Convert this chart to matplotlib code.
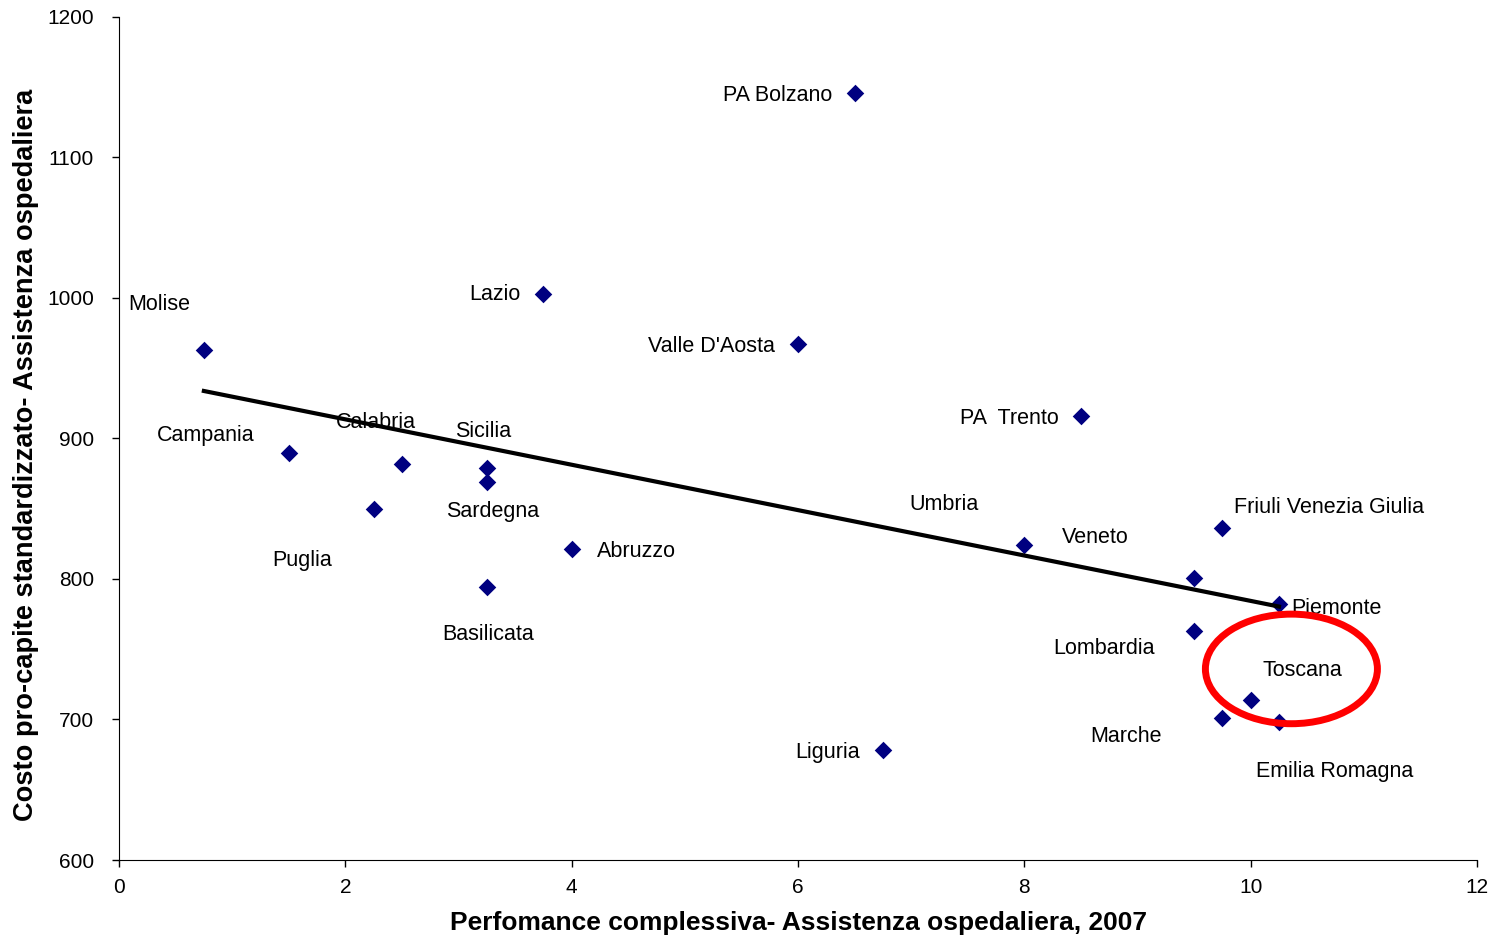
import matplotlib
matplotlib.use("Agg")
import matplotlib.pyplot as plt
from matplotlib.patches import Ellipse
import numpy as np

plt.rcParams['font.family'] = ['Liberation Sans', 'DejaVu Sans']

regions = ["PA Bolzano", "Lazio", "Valle D'Aosta", "Molise", "PA  Trento", "Campania",
           "Calabria", "Sicilia", "Sardegna", "Puglia", "Abruzzo", "Basilicata",
           "Umbria", "Friuli Venezia Giulia", "Veneto", "Piemonte", "Lombardia",
           "Toscana", "Marche", "Emilia Romagna", "Liguria"]
performance = [6.5, 3.75, 6.0, 0.75, 8.5, 1.5,
               2.5, 3.25, 3.25, 2.25, 4.0, 3.25,
               8.0, 9.75, 9.5, 10.25, 9.5,
               10.0, 9.75, 10.25, 6.75]
cost = [1146, 1003, 967, 963, 916, 890,
        882, 879, 869, 850, 821, 794,
        824, 836, 801, 782, 763,
        714, 701, 698, 678]

# label placement (layout only): (x, y, ha)
label_pos = {
    "PA Bolzano": (6.30, 1146, 'right'),
    "Lazio": (3.55, 1004, 'right'),
    "Valle D'Aosta": (5.80, 967, 'right'),
    "Molise": (0.36, 997, 'center'),
    "PA  Trento": (8.30, 916, 'right'),
    "Campania": (0.77, 904, 'center'),
    "Calabria": (2.27, 913, 'center'),
    "Sicilia": (3.22, 907, 'center'),
    "Sardegna": (3.30, 850, 'center'),
    "Puglia": (1.62, 815, 'center'),
    "Abruzzo": (4.22, 821, 'left'),
    "Basilicata": (3.26, 762, 'center'),
    "Umbria": (7.29, 855, 'center'),
    "Friuli Venezia Giulia": (10.69, 853, 'center'),
    "Veneto": (8.63, 831, 'center'),
    "Piemonte": (10.36, 781, 'left'),
    "Lombardia": (8.70, 752, 'center'),
    "Toscana": (10.46, 737, 'center'),
    "Marche": (8.90, 690, 'center'),
    "Emilia Romagna": (10.74, 665, 'center'),
    "Liguria": (6.55, 678, 'right'),
}

fig = plt.figure(figsize=(14.96, 9.36), dpi=100)
ax = fig.add_axes([119/1496, 76/936, 1358/1496, 843/936])

x = np.array(performance)
y = np.array(cost)
slope, intercept = np.polyfit(x, y, 1)
xs = np.array([x.min(), x.max()])
ax.plot(xs, slope * xs + intercept, color='black', lw=3, zorder=3)

ax.scatter(x, y, marker='D', s=80, color='#000080', zorder=2, linewidths=0)

for name in regions:
    lx, ly, ha = label_pos[name]
    ax.text(lx, ly, name, ha=ha, va='center_baseline', fontsize=15.5, zorder=1)

ax.add_patch(Ellipse((10.36, 736), 1.52, 78, fill=False, edgecolor='#ff0000', lw=5, zorder=4))

ax.set_xlim(0, 12)
ax.set_ylim(600, 1200)
ax.set_xticks(range(0, 13, 2))
ax.set_yticks(range(600, 1201, 100))
ax.tick_params(labelsize=15, direction='out', length=5, width=1, colors='black')
ax.tick_params(axis='y', pad=13)
ax.tick_params(axis='x', pad=8)
ax.spines['top'].set_visible(False)
ax.spines['right'].set_visible(False)
ax.set_xlabel("Perfomance complessiva- Assistenza ospedaliera, 2007", fontsize=19, fontweight='bold', labelpad=10)
fig.text(26/1496, 1 - 455/936, "Costo pro-capite standardizzato- Assistenza ospedaliera",
         rotation=90, ha='center', va='center', fontsize=19.6, fontweight='bold')

fig.savefig("out.png", dpi=100)
